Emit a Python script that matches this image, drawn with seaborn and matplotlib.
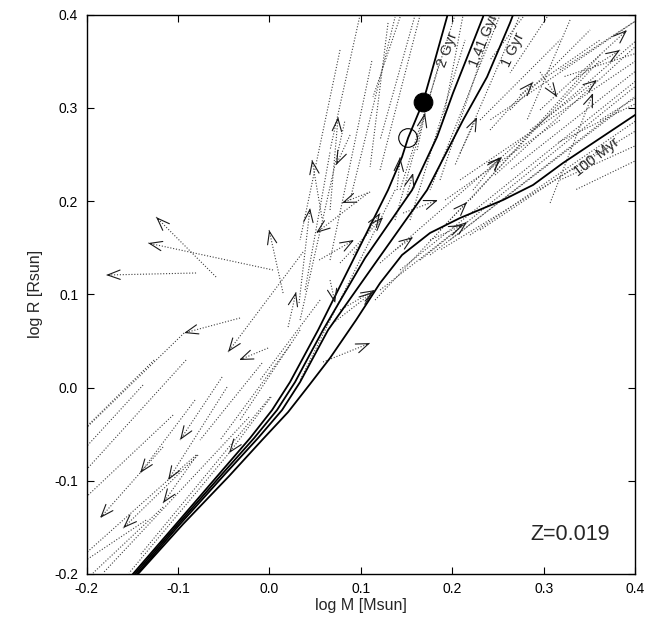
import numpy as np
import pandas as pd
import matplotlib
matplotlib.use("Agg")
import matplotlib.pyplot as plt
import seaborn as sns

# ---------------- isochrones ----------------
iso_2gyr_x = [-0.1513, -0.1021, -0.0550, -0.0211, 0.0030, 0.0226, 0.0391, 0.0533, 0.0905,
              0.1298, 0.1451, 0.1517, 0.1681, 0.1790, 0.1943, 0.1975]
iso_2gyr_y = [-0.2023, -0.1465, -0.0928, -0.0542, -0.0241, 0.0059, 0.0359, 0.0617, 0.1347,
              0.2119, 0.2473, 0.2677, 0.3063, 0.3439, 0.3975, 0.41]

iso_141_x = [-0.1491, -0.0999, -0.0517, -0.0167, 0.0084, 0.0281, 0.0445, 0.0587, 0.1047,
             0.1561, 0.1834, 0.2009, 0.2195, 0.2337, 0.2370]
iso_141_y = [-0.2023, -0.1465, -0.0928, -0.0542, -0.0241, 0.0059, 0.0359, 0.0617, 0.1390,
             0.2119, 0.2688, 0.3160, 0.3621, 0.3975, 0.41]

iso_1gyr_x = [-0.1469, -0.0977, -0.0485, -0.0124, 0.0139, 0.0336, 0.0500, 0.0642, 0.1167,
              0.1725, 0.2119, 0.2381, 0.2632, 0.2705]
iso_1gyr_y = [-0.2023, -0.1465, -0.0928, -0.0542, -0.0241, 0.0059, 0.0359, 0.0617, 0.1347,
              0.2119, 0.2870, 0.3332, 0.3911, 0.41]

iso_100_x = [-0.1458, -0.0944, -0.0441, -0.0080, 0.0205, 0.0445, 0.0664, 0.0948, 0.1211,
             0.1451, 0.1757, 0.2086, 0.2556, 0.2884, 0.3212, 0.40, 0.41]
iso_100_y = [-0.2023, -0.1465, -0.0950, -0.0563, -0.0263, 0.0038, 0.0317, 0.0724, 0.1121,
             0.1422, 0.1658, 0.1819, 0.2012, 0.2173, 0.2409, 0.2924, 0.298]

iso_labels = ["2 Gyr", "1.41 Gyr", "1 Gyr", "100 Myr"]
label_x = [0.1945, 0.2345, 0.2665, 0.3584]
label_y = [0.362, 0.372, 0.362, 0.247]
label_rot = [70, 68, 65, 38]

# ---------------- stars ----------------
star_x = [0.1681, 0.1517]
star_y = [0.3063, 0.2677]

# ---------------- evolution vectors (start -> end), head flag ----------------
seg_x0 = [-0.0802, -0.0583, 0.0040, 0.0150, 0.0369, -0.0321, -0.0933, -0.0014, 0.0205, 0.0325,
          0.1080, 0.0544, 0.0587, 0.0697, 0.0773, 0.0664, 0.0576, 0.0391, 0.0664, 0.0883,
          0.1102, -0.0517, -0.0813, -0.0463, -0.1163, -0.0791, -0.0780, 0.0019, -0.0441, -0.1261,
          -0.1382, -0.0911, -0.1053, -0.0802, -0.1349, -0.1163, -0.0222, -0.0080, 0.0008, 0.1375,
          0.0992, 0.1298, 0.1430, 0.1900, 0.2086, 0.2228, 0.1616, 0.1397, 0.1506, 0.1463,
          0.1758, 0.1867, 0.0916, 0.1375, 0.0773, 0.2414, 0.2961, 0.2961, 0.3322, 0.2852,
          0.3071, 0.4022, 0.4022, 0.4022, 0.4022, 0.4022, 0.2775, 0.3038, 0.3289, 0.4022,
          0.4022, 0.4022, 0.2742, 0.3618, 0.2524, 0.2031, 0.0773, 0.1594, 0.1211, 0.1211,
          0.1156, 0.1430,
          0.1649, 0.1758, 0.1977, 0.2195, 0.2305, 0.1922, 0.2086, 0.2305, 0.2633, 0.2469,
          0.3180, 0.3618, 0.2742, 0.1375, 0.1539, 0.1867, 0.1211, 0.0883, 0.0664, 0.0336,
          0.0336, 0.0226, 0.0555]
seg_y0 = [0.1229, 0.1186, 0.1261, 0.1014, 0.1454, 0.0746, 0.0585, 0.0424, 0.0649, 0.0907,
          0.2087, 0.1368, 0.0274, 0.0692, 0.1336, 0.1153, 0.1819, 0.1046, 0.1905, 0.2709,
          0.2098, 0.0113, -0.0134, 0.0005, -0.0638, -0.0724, -0.0724, -0.0102, -0.0703, 0.0295,
          0.0027, 0.0295, -0.0295, -0.0724, -0.1422, -0.1282, -0.0317, 0.0263, -0.0102, 0.2119,
          0.3997, 0.3911, 0.3975, 0.2870, 0.2516, 0.2119, 0.2548, 0.2119, 0.2066, 0.1872,
          0.1583, 0.1690, 0.1422, 0.1475, 0.0832, 0.2763, 0.3385, 0.2978, 0.3300, 0.2763,
          0.1980, 0.3943, 0.3729, 0.3407, 0.3053, 0.3589, 0.3975, 0.3975, 0.3943, 0.2763,
          0.2602, 0.2441, 0.3997, 0.3568, 0.3997, 0.3997, 0.3621, 0.3997, 0.1336, 0.1046,
          0.0939, 0.1261,
          0.1368, 0.1422, 0.1583, 0.1636, 0.1690, 0.2012, 0.2227, 0.2870, 0.2978, 0.2280,
          0.3407, 0.2870, 0.3139, 0.1797, 0.1797, 0.2227, 0.2334, 0.2012, 0.1368, 0.0724,
          0.0617, 0.0456, 0.0939]
seg_x1 = [-0.1786, -0.1239, -0.1327, -0.0003, -0.0452, -0.0933, -0.2005, -0.0331, 0.0292, 0.0445,
          0.0511, 0.0927, 0.1102, 0.1134, 0.1244, 0.0719, 0.0467, 0.0664, 0.0752, 0.0730,
          0.0795, -0.0977, -0.1414, -0.1108, -0.1852, -0.1163, -0.1600, -0.0441, -0.1535, -0.2005,
          -0.2005, -0.2005, -0.2005, -0.2005, -0.2005, -0.1929, -0.1819, -0.0758, -0.1414, 0.0336,
          0.0664, 0.1102, 0.1134, 0.2119, 0.2272, 0.2524, 0.1703, 0.1430, 0.1572, 0.1845,
          0.2119, 0.2163, 0.1211, 0.1572, 0.1156, 0.2885, 0.3147, 0.3913, 0.3836, 0.3585,
          0.3541, 0.2414, 0.2414, 0.2633, 0.3147, 0.3213, 0.2414, 0.2633, 0.2819, 0.1867,
          0.3180, 0.3344, 0.2031, 0.2195, 0.1758, 0.1430, 0.0336, 0.1211, 0.2546, 0.2163,
          0.3618, 0.4022,
          0.4022, 0.3836, 0.4022, 0.4022, 0.3618, 0.3180, 0.4022, 0.3180, 0.3508, 0.4022,
          0.4022, 0.4022, 0.3618, 0.1867, 0.2141, 0.2469, 0.1649, 0.1375, 0.1123, 0.0828,
          -0.0321, -0.0539, -0.0102]
seg_y1 = [0.1207, 0.1829, 0.1550, 0.1690, 0.0381, 0.0585, -0.0435, 0.0295, 0.1025, 0.1926,
          0.1658, 0.1583, 0.0477, 0.1025, 0.1829, 0.0907, 0.2441, 0.2527, 0.2902, 0.2387,
          0.1980, -0.0563, -0.0917, -0.0993, -0.1400, -0.1239, -0.1508, -0.0703, -0.1990, -0.0424,
          -0.0638, -0.0885, -0.1175, -0.1776, -0.1851, -0.1990, -0.1990, -0.0563, -0.1797, 0.0080,
          0.2548, 0.2366, 0.3117, 0.3997, 0.2902, 0.2473, 0.2945, 0.2473, 0.2302, 0.2012,
          0.1744, 0.1990, 0.1872, 0.1615, 0.1046, 0.3278, 0.3117, 0.3836, 0.3621, 0.3300,
          0.3160, 0.2870, 0.2366, 0.2334, 0.2624, 0.3332, 0.3514, 0.3375, 0.2870, 0.1475,
          0.2227, 0.2119, 0.2387, 0.2012, 0.2119, 0.2119, 0.1583, 0.2656, 0.2473, 0.1776,
          0.3514, 0.3300,
          0.3246, 0.2978, 0.3139, 0.2870, 0.2548, 0.2870, 0.3514, 0.3729, 0.3836, 0.3675,
          0.3943, 0.3117, 0.3729, 0.3514, 0.3729, 0.3975, 0.3997, 0.3975, 0.3514, 0.2870,
          -0.0349, -0.0563, 0.0080]
seg_head = [1, 1, 1, 1, 1, 1, 0, 1, 1, 1,
            1, 1, 1, 1, 1, 1, 1, 0, 1, 1,
            1, 1, 1, 1, 1, 1, 1, 1, 0, 0,
            0, 0, 0, 0, 0, 0, 0, 0, 0, 0,
            0, 0, 0, 0, 1, 1, 1, 1, 1, 1,
            1, 1, 1, 1, 1, 1, 1, 1, 1, 1,
            1, 0, 0, 0, 0, 0, 0, 0, 0, 0,
            0, 0, 0, 0, 0, 0, 0, 0, 1, 1,
            0, 0,
            0, 0, 0, 0, 0, 0, 0, 0, 0, 0,
            0, 0, 0, 0, 0, 0, 0, 0, 0, 0,
            0, 0, 0]

# ---------------- figure ----------------
sns.set_theme(style="ticks")
plt.rcParams['font.family'] = ['Liberation Sans', 'DejaVu Sans']

fig = plt.figure(figsize=(6.52, 6.19), dpi=100)
ax = fig.add_axes([0.1327, 0.0727, 0.8413, 0.9036])

# dotted vectors
rows = []
for i, (a, b, c, d) in enumerate(zip(seg_x0, seg_y0, seg_x1, seg_y1)):
    rows.append((i, a, b))
    rows.append((i, c, d))
seg_df = pd.DataFrame(rows, columns=["id", "x", "y"])
sns.lineplot(data=seg_df, x="x", y="y", units="id", estimator=None, sort=False,
             color="0.25", lw=0.8, linestyle=(0, (1, 1.6)), ax=ax, legend=False)

for a, b, c, d, h in zip(seg_x0, seg_y0, seg_x1, seg_y1, seg_head):
    if not h:
        continue
    dx, dy = c - a, d - b
    n = np.hypot(dx, dy)
    ax.annotate("", xy=(c, d), xytext=(c - 0.004 * dx / n, d - 0.004 * dy / n),
                arrowprops=dict(arrowstyle="->,head_length=0.75,head_width=0.28",
                                lw=0.8, color="0.1", shrinkA=0, shrinkB=0),
                annotation_clip=True)

# isochrones
for xs, ys in [(iso_2gyr_x, iso_2gyr_y), (iso_141_x, iso_141_y),
               (iso_1gyr_x, iso_1gyr_y), (iso_100_x, iso_100_y)]:
    sns.lineplot(x=xs, y=ys, sort=False, estimator=None, color="black", lw=1.3, ax=ax)

for s, x, y, r in zip(iso_labels, label_x, label_y, label_rot):
    ax.text(x, y, s, rotation=r, ha="center", va="center", fontsize=10.5,
            rotation_mode="anchor", clip_on=True)

# stars
sns.scatterplot(x=[star_x[0]], y=[star_y[0]], s=180, color="black", edgecolor="black",
                linewidth=0.8, ax=ax, zorder=5)
sns.scatterplot(x=[star_x[1]], y=[star_y[1]], s=180, facecolor="none", edgecolor="black",
                linewidth=0.8, ax=ax, zorder=5)

ax.text(0.372, -0.158, "Z=0.019", ha="right", va="center", fontsize=15.5)

ax.set_xlim(-0.2, 0.4)
ax.set_ylim(-0.2, 0.4)
ticks = [-0.2, -0.1, 0.0, 0.1, 0.2, 0.3, 0.4]
ax.set_xticks(ticks)
ax.set_yticks(ticks)
ax.set_xticklabels([f"{t:.1f}" for t in ticks])
ax.set_yticklabels([f"{t:.1f}" for t in ticks])
ax.tick_params(direction="in", length=5, width=0.8, top=True, right=True,
               labelsize=10, pad=6, colors="black")
for sp in ax.spines.values():
    sp.set_linewidth(1.0)
    sp.set_color("black")
    sp.set_visible(True)
ax.set_xlabel("log M [Msun]", fontsize=11.5, labelpad=1)
ax.set_ylabel("log R [Rsun]", fontsize=11.5, labelpad=8)

fig.savefig("out.png", dpi=100)
